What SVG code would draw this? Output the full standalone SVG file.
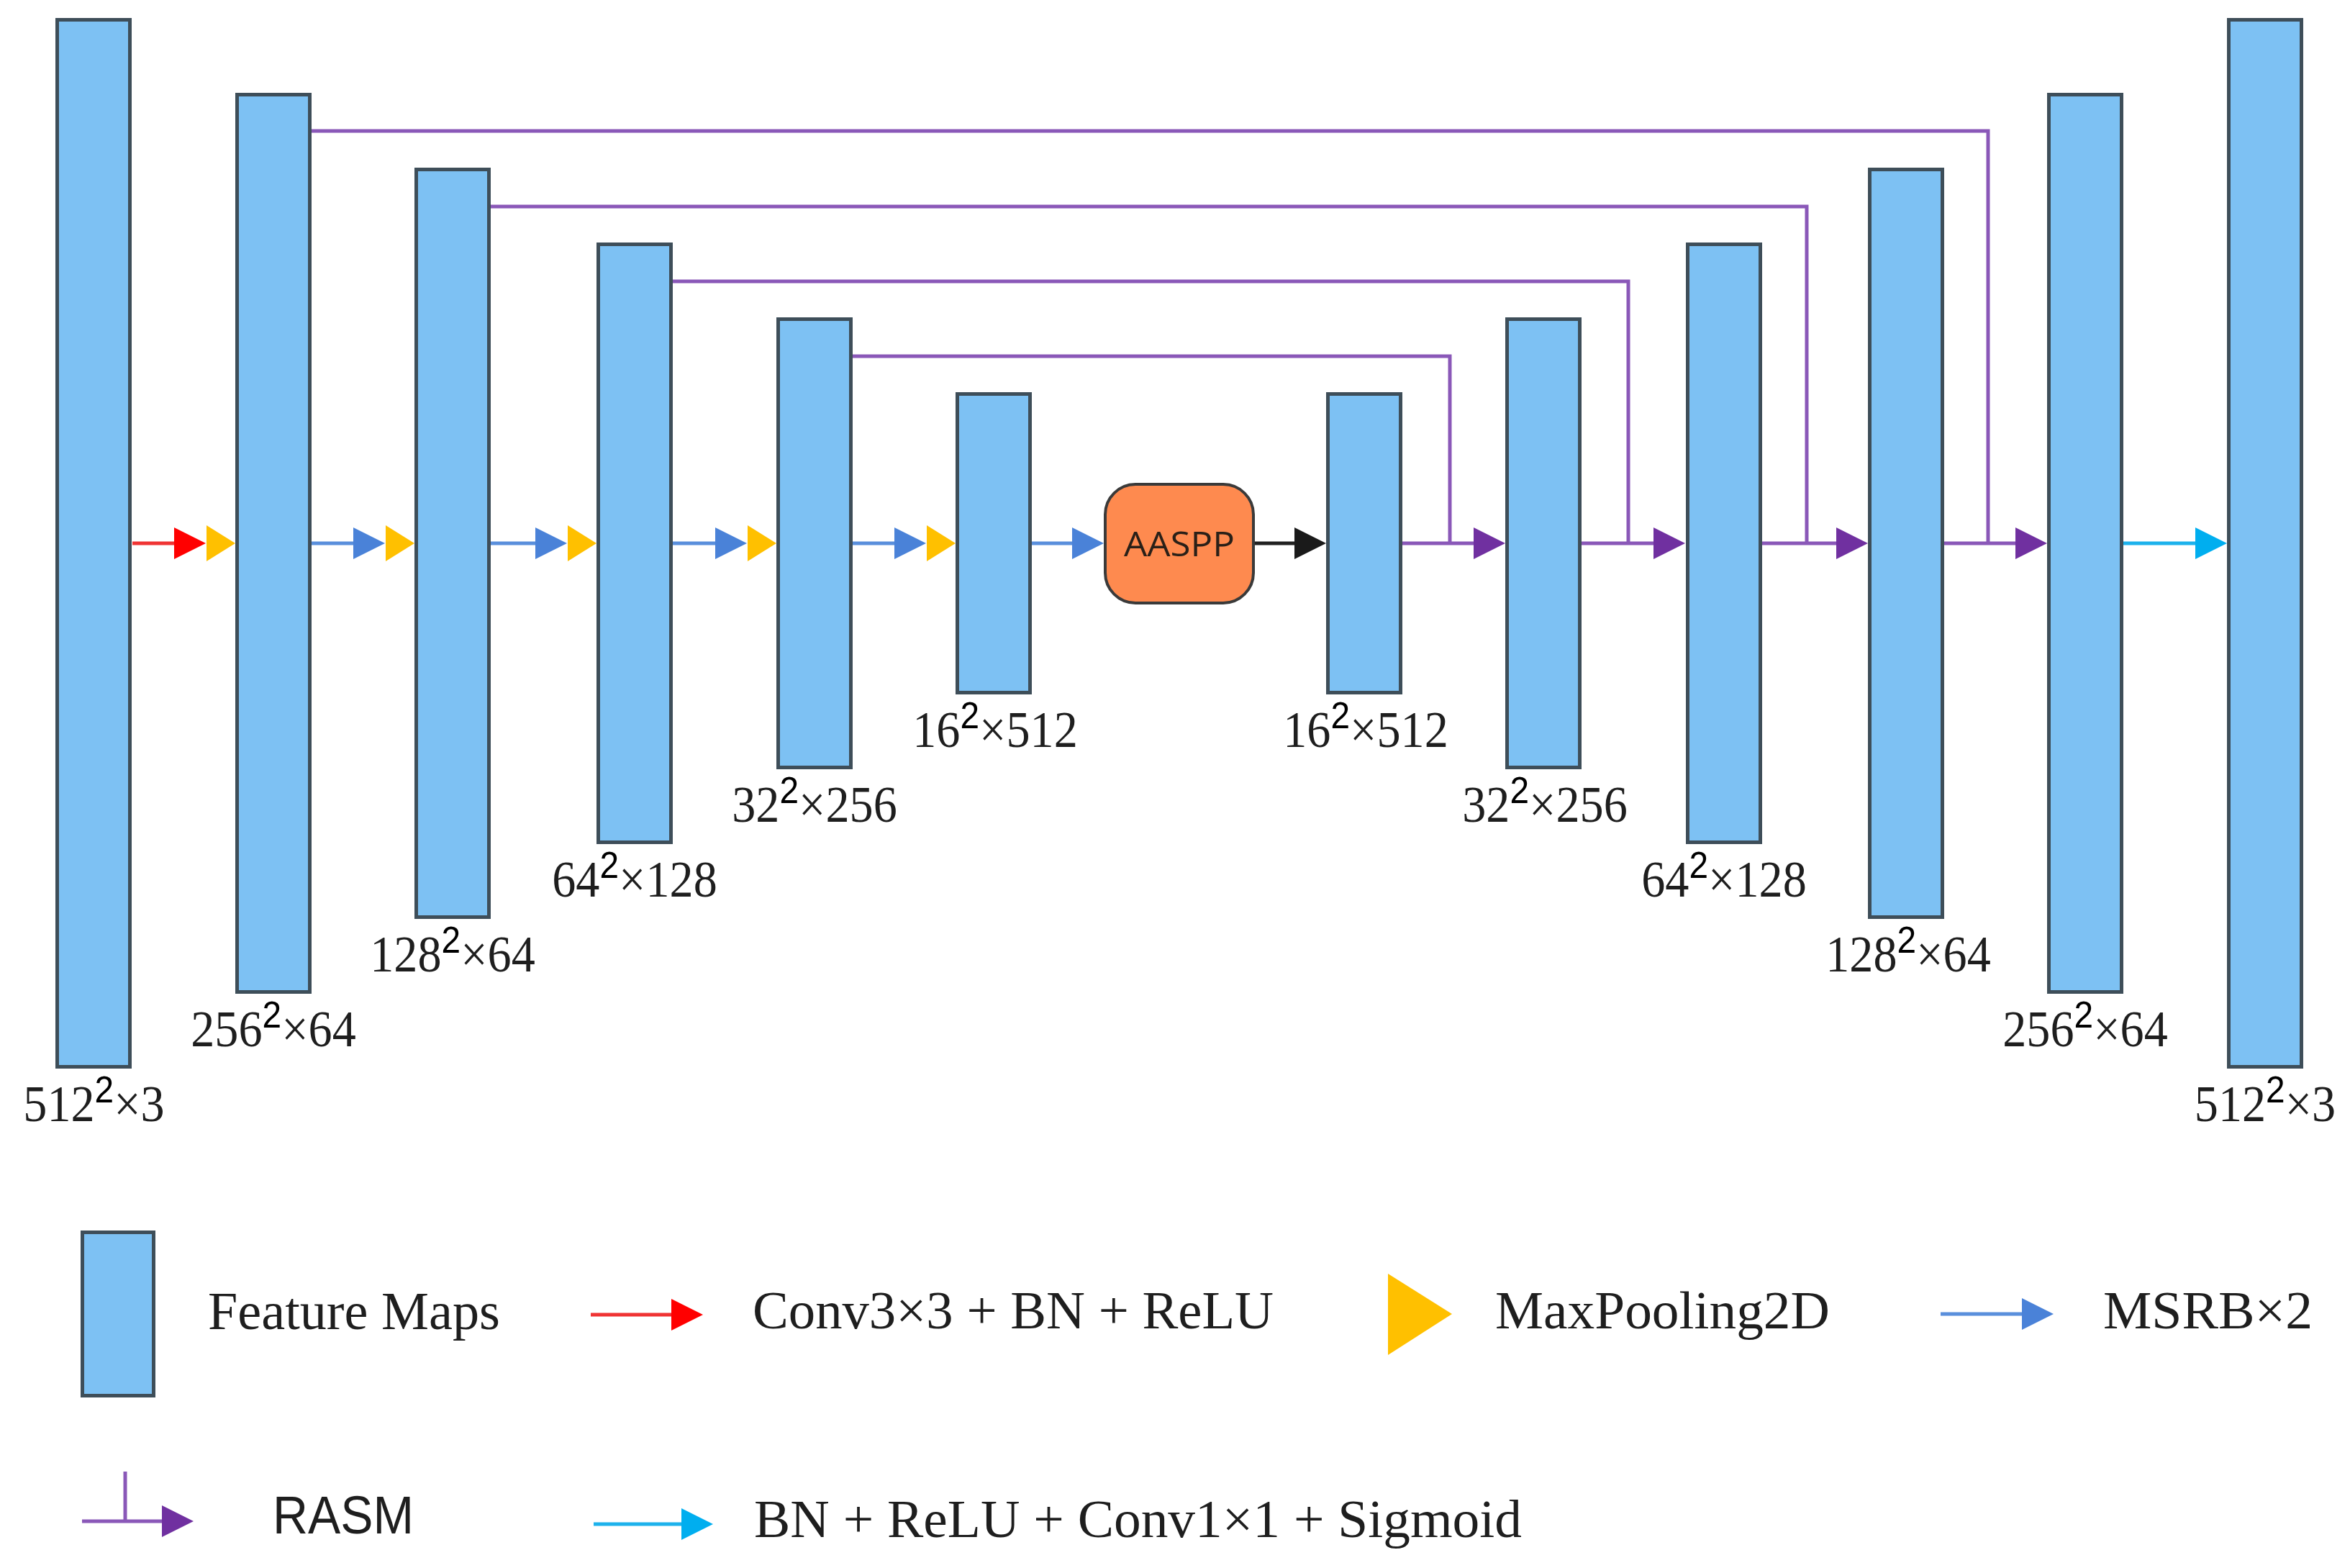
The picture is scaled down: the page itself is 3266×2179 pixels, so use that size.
<svg xmlns="http://www.w3.org/2000/svg" xmlns:xlink="http://www.w3.org/1999/xlink" width="3266" height="2179" viewBox="0 0 3266 2179">
<style>
.bar{fill:#7DC1F3;stroke:#3E4E59;stroke-width:5}
.lbl{font-family:"Liberation Serif","Times New Roman",serif;font-size:72px;fill:#1e1e1e}
.sup{font-family:"Liberation Sans",Arial,sans-serif;font-size:52px;fill:#000}
.leg{font-family:"Liberation Serif","Times New Roman",serif;font-size:75px;fill:#1e1e1e}
.legs{font-family:"Liberation Sans",Arial,sans-serif;font-size:74px;fill:#1e1e1e}
.ln{fill:none;stroke-width:5}
.red{stroke:#F03434}.redf{fill:#FF0000}
.blu{stroke:#5A8FDC}.bluf{fill:#4A82D8}
.pur{stroke:#8A58B8}.purf{fill:#7030A0}
.blk{stroke:#222}.blkf{fill:#1A1A1A}
.cya{stroke:#1DB2EC}.cyaf{fill:#00AEEF}
.yelf{fill:#FFC000}
</style>
<defs>
<polygon id="tri" points="0,-22 44,0 0,22"/>
<polygon id="pool" points="0,-25 40,0 0,25"/>
</defs>
<rect width="3266" height="2179" fill="#fff"/>

<g id="connectors">
  <!-- encoder -->
  <path class="ln red" d="M184,755H244"/>
  <use href="#tri" class="redf" x="242" y="755"/>
  <use href="#pool" class="yelf" x="287" y="755"/>
  <path class="ln blu" d="M433,755H493"/>
  <use href="#tri" class="bluf" x="491" y="755"/>
  <use href="#pool" class="yelf" x="536" y="755"/>
  <path class="ln blu" d="M682,755H746"/>
  <use href="#tri" class="bluf" x="744" y="755"/>
  <use href="#pool" class="yelf" x="789" y="755"/>
  <path class="ln blu" d="M935,755H996"/>
  <use href="#tri" class="bluf" x="994" y="755"/>
  <use href="#pool" class="yelf" x="1039" y="755"/>
  <path class="ln blu" d="M1185,755H1245"/>
  <use href="#tri" class="bluf" x="1243" y="755"/>
  <use href="#pool" class="yelf" x="1288" y="755"/>
  <!-- bottleneck -->
  <path class="ln blu" d="M1434,755H1492"/>
  <use href="#tri" class="bluf" x="1490" y="755"/>
  <path class="ln blk" d="M1744,755H1801"/>
  <use href="#tri" class="blkf" x="1799" y="755"/>
  <!-- skip connections (RASM) -->
  <path class="ln pur" d="M433,182H2763V755"/>
  <path class="ln pur" d="M682,287H2511V755"/>
  <path class="ln pur" d="M935,391H2263V755"/>
  <path class="ln pur" d="M1185,495H2015V755"/>
  <!-- decoder -->
  <path class="ln pur" d="M1949,755H2050"/>
  <use href="#tri" class="purf" x="2048" y="755"/>
  <path class="ln pur" d="M2198,755H2300"/>
  <use href="#tri" class="purf" x="2298" y="755"/>
  <path class="ln pur" d="M2449,755H2554"/>
  <use href="#tri" class="purf" x="2552" y="755"/>
  <path class="ln pur" d="M2702,755H2803"/>
  <use href="#tri" class="purf" x="2801" y="755"/>
  <path class="ln cya" d="M2951,755H3053"/>
  <use href="#tri" class="cyaf" x="3051" y="755"/>
</g>

<g id="fm1"><rect class="bar" x="79.5" y="27.5" width="101" height="1455"/>
<g transform="translate(130.5,1558) scale(0.92,1)"><text class="lbl" text-anchor="middle">512<tspan class="sup" dy="-26">2</tspan><tspan dy="26">×3</tspan></text></g></g>
<g id="fm2"><rect class="bar" x="329.5" y="131.5" width="101" height="1247"/>
<g transform="translate(380,1454) scale(0.92,1)"><text class="lbl" text-anchor="middle">256<tspan class="sup" dy="-26">2</tspan><tspan dy="26">×64</tspan></text></g></g>
<g id="fm3"><rect class="bar" x="578.5" y="235.5" width="101" height="1039"/>
<g transform="translate(629,1350) scale(0.92,1)"><text class="lbl" text-anchor="middle">128<tspan class="sup" dy="-26">2</tspan><tspan dy="26">×64</tspan></text></g></g>
<g id="fm4"><rect class="bar" x="831.5" y="339.5" width="101" height="831"/>
<g transform="translate(882,1246) scale(0.92,1)"><text class="lbl" text-anchor="middle">64<tspan class="sup" dy="-26">2</tspan><tspan dy="26">×128</tspan></text></g></g>
<g id="fm5"><rect class="bar" x="1081.5" y="443.5" width="101" height="623"/>
<g transform="translate(1132,1142) scale(0.92,1)"><text class="lbl" text-anchor="middle">32<tspan class="sup" dy="-26">2</tspan><tspan dy="26">×256</tspan></text></g></g>
<g id="fm6"><rect class="bar" x="1330.5" y="547.5" width="101" height="415"/>
<g transform="translate(1383,1038) scale(0.92,1)"><text class="lbl" text-anchor="middle">16<tspan class="sup" dy="-26">2</tspan><tspan dy="26">×512</tspan></text></g></g>

<g id="aaspp"><rect x="1536" y="673" width="206" height="165" rx="42" fill="#FE8A4F" stroke="#3A3A3A" stroke-width="4"/>
<text x="1639" y="773" text-anchor="middle" font-family="'Open Sans','Liberation Sans',Arial,sans-serif" font-size="48" fill="#2A2018" textLength="154" lengthAdjust="spacingAndGlyphs">AASPP</text></g>

<g id="fm7"><rect class="bar" x="1845.5" y="547.5" width="101" height="415"/>
<g transform="translate(1898,1038) scale(0.92,1)"><text class="lbl" text-anchor="middle">16<tspan class="sup" dy="-26">2</tspan><tspan dy="26">×512</tspan></text></g></g>
<g id="fm8"><rect class="bar" x="2094.5" y="443.5" width="101" height="623"/>
<g transform="translate(2147,1142) scale(0.92,1)"><text class="lbl" text-anchor="middle">32<tspan class="sup" dy="-26">2</tspan><tspan dy="26">×256</tspan></text></g></g>
<g id="fm9"><rect class="bar" x="2345.5" y="339.5" width="101" height="831"/>
<g transform="translate(2396,1246) scale(0.92,1)"><text class="lbl" text-anchor="middle">64<tspan class="sup" dy="-26">2</tspan><tspan dy="26">×128</tspan></text></g></g>
<g id="fm10"><rect class="bar" x="2598.5" y="235.5" width="101" height="1039"/>
<g transform="translate(2652,1350) scale(0.92,1)"><text class="lbl" text-anchor="middle">128<tspan class="sup" dy="-26">2</tspan><tspan dy="26">×64</tspan></text></g></g>
<g id="fm11"><rect class="bar" x="2847.5" y="131.5" width="101" height="1247"/>
<g transform="translate(2898,1454) scale(0.92,1)"><text class="lbl" text-anchor="middle">256<tspan class="sup" dy="-26">2</tspan><tspan dy="26">×64</tspan></text></g></g>
<g id="fm12"><rect class="bar" x="3097.5" y="27.5" width="101" height="1455"/>
<g transform="translate(3148,1558) scale(0.92,1)"><text class="lbl" text-anchor="middle">512<tspan class="sup" dy="-26">2</tspan><tspan dy="26">×3</tspan></text></g></g>

<g id="legend">
  <g id="leg-fm"><rect class="bar" x="114.5" y="1712.5" width="99" height="227"/>
  <text class="leg" x="289" y="1847" textLength="406" lengthAdjust="spacingAndGlyphs">Feature Maps</text></g>
  <g id="leg-conv"><path class="ln red" d="M821,1827H935"/><use href="#tri" class="redf" x="933" y="1827"/>
  <text class="leg" x="1046" y="1846" textLength="724" lengthAdjust="spacingAndGlyphs">Conv3×3 + BN + ReLU</text></g>
  <g id="leg-pool"><polygon class="yelf" points="1929,1770 2018,1826 1929,1883"/>
  <text class="leg" x="2078" y="1846" textLength="465" lengthAdjust="spacingAndGlyphs">MaxPooling2D</text></g>
  <g id="leg-msrb"><path class="ln blu" d="M2697,1826H2812"/><use href="#tri" class="bluf" x="2810" y="1826"/>
  <text class="leg" x="2923" y="1846" textLength="291" lengthAdjust="spacingAndGlyphs">MSRB×2</text></g>
  <g id="leg-rasm"><path class="ln pur" d="M174,2045V2114M114,2114H227"/><use href="#tri" class="purf" x="225" y="2114"/>
  <text class="legs" x="379" y="2131" textLength="196" lengthAdjust="spacingAndGlyphs">RASM</text></g>
  <g id="leg-out"><path class="ln cya" d="M825,2118H949"/><use href="#tri" class="cyaf" x="947" y="2118"/>
  <text class="leg" x="1048" y="2136" textLength="1067" lengthAdjust="spacingAndGlyphs">BN + ReLU + Conv1×1 + Sigmoid</text></g>
</g>
</svg>
